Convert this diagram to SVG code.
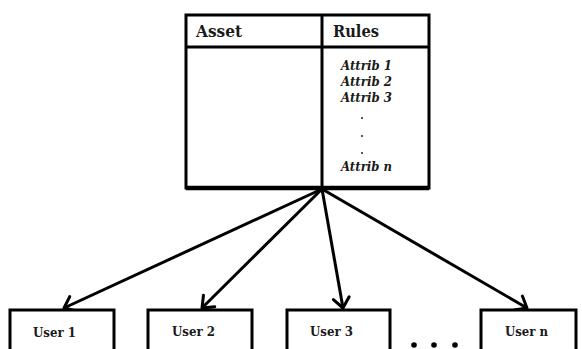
<svg xmlns="http://www.w3.org/2000/svg" width="582" height="349" viewBox="0 0 582 349">
  <style>
    .box { fill: #fff; stroke: #000; stroke-width: 3; }
    .head { font-family: "DejaVu Serif", "Liberation Serif", serif; font-weight: bold; font-size: 17px; fill: #1a1a1a; }
    .attr { font-family: "DejaVu Serif", "Liberation Serif", serif; font-weight: bold; font-style: italic; font-size: 13px; fill: #1a1a1a; }
    .user { font-family: "DejaVu Serif", "Liberation Serif", serif; font-weight: bold; font-size: 13.5px; fill: #1a1a1a; }
    .link { stroke: #000; stroke-width: 3; fill: none; marker-end: url(#arrow); }
  </style>
  <defs>
    <marker id="arrow" markerUnits="userSpaceOnUse" markerWidth="26" markerHeight="26" refX="13" refY="13" orient="auto">
      <path d="M3,5 L13,13 L3,21" fill="none" stroke="#000" stroke-width="3" stroke-linecap="round" stroke-linejoin="round"/>
    </marker>
  </defs>
  <rect width="582" height="349" fill="#fff"/>

  <!-- asset / rules table -->
  <g id="table">
    <rect class="box" x="186" y="15" width="243" height="173"/>
    <line x1="186" y1="47" x2="429" y2="47" stroke="#000" stroke-width="3"/>
    <line x1="322" y1="15" x2="322" y2="188" stroke="#000" stroke-width="3"/>
    <line x1="186" y1="188" x2="429" y2="188" stroke="#000" stroke-width="4.5"/>
    <text class="head" x="196" y="37" textLength="46" lengthAdjust="spacingAndGlyphs">Asset</text>
    <text class="head" x="333" y="37" textLength="46" lengthAdjust="spacingAndGlyphs">Rules</text>
    <text class="attr" x="341" y="70" textLength="51" lengthAdjust="spacingAndGlyphs">Attrib 1</text>
    <text class="attr" x="341" y="86" textLength="51" lengthAdjust="spacingAndGlyphs">Attrib 2</text>
    <text class="attr" x="341" y="102" textLength="51" lengthAdjust="spacingAndGlyphs">Attrib 3</text>
    <circle cx="362" cy="118" r="1" fill="#222"/>
    <circle cx="362" cy="136" r="1" fill="#222"/>
    <circle cx="362" cy="153" r="1" fill="#222"/>
    <text class="attr" x="341" y="171" textLength="51" lengthAdjust="spacingAndGlyphs">Attrib n</text>
  </g>

  <!-- connectors -->
  <g id="connectors">
    <line class="link" x1="322" y1="189" x2="64" y2="308"/>
    <line class="link" x1="322" y1="189" x2="202" y2="308"/>
    <line class="link" x1="322" y1="189" x2="343" y2="308"/>
    <line class="link" x1="322" y1="189" x2="527" y2="308"/>
  </g>

  <!-- users -->
  <g id="user1">
    <rect class="box" x="10" y="310" width="104" height="50"/>
    <text class="user" x="33" y="337" textLength="43" lengthAdjust="spacingAndGlyphs">User 1</text>
  </g>
  <g id="user2">
    <rect class="box" x="148" y="310" width="104" height="50"/>
    <text class="user" x="172" y="336" textLength="43" lengthAdjust="spacingAndGlyphs">User 2</text>
  </g>
  <g id="user3">
    <rect class="box" x="287" y="310" width="103" height="50"/>
    <text class="user" x="310" y="336" textLength="43" lengthAdjust="spacingAndGlyphs">User 3</text>
  </g>
  <g id="ellipsis">
    <circle cx="414" cy="345" r="2.8" fill="#000"/>
    <circle cx="434" cy="345" r="2.8" fill="#000"/>
    <circle cx="455" cy="345" r="2.8" fill="#000"/>
  </g>
  <g id="usern">
    <rect class="box" x="481" y="310" width="95" height="50"/>
    <text class="user" x="505" y="336" textLength="43" lengthAdjust="spacingAndGlyphs">User n</text>
  </g>
</svg>
